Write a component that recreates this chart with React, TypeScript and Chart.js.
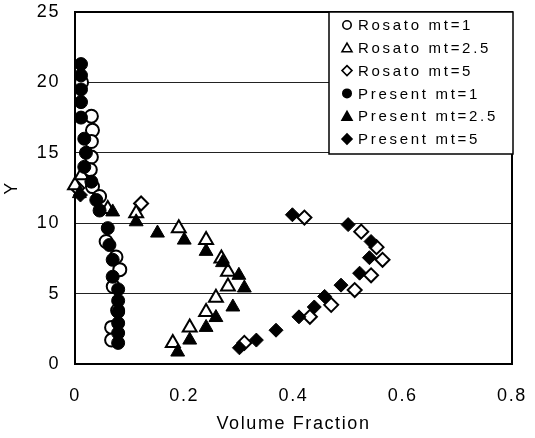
import { useEffect, useRef } from 'react';
import { Chart, registerables } from 'chart.js';

Chart.register(...registerables);

const FONT = '"Liberation Sans", Arial, Helvetica, sans-serif';

const xTicks = [0, 0.2, 0.4, 0.6, 0.8];
const yTicks = [0, 5, 10, 15, 20, 25];

const rosato1X = [0.012, 0.03, 0.032, 0.03, 0.03, 0.028, 0.032, 0.045, 0.057, 0.075, 0.082, 0.07, 0.078, 0.067, 0.067];
const rosato1Y = [20.0, 17.6, 16.6, 15.8, 14.7, 13.8, 12.6, 11.9, 8.7, 7.6, 6.7, 5.5, 3.8, 2.6, 1.7];

const present1X = [0.011, 0.011, 0.011, 0.011, 0.011, 0.017, 0.02, 0.017, 0.03, 0.039, 0.045, 0.06, 0.063, 0.069, 0.069, 0.079, 0.079, 0.079, 0.079, 0.079, 0.079];
const present1Y = [21.3, 20.5, 19.5, 18.6, 17.5, 16.0, 15.0, 14.0, 12.95, 11.65, 10.9, 9.65, 8.45, 7.4, 6.2, 5.3, 4.5, 3.7, 2.9, 2.2, 1.5];

const rosato25X = [0.0, 0.012, 0.06, 0.112, 0.19, 0.24, 0.268, 0.28, 0.28, 0.258, 0.24, 0.21, 0.179];
const rosato25Y = [12.7, 13.4, 11.0, 10.7, 9.65, 8.8, 7.5, 6.55, 5.5, 4.7, 3.7, 2.6, 1.5];

const present25X = [0.008, 0.069, 0.112, 0.151, 0.2, 0.24, 0.27, 0.3, 0.31, 0.289, 0.258, 0.24, 0.21, 0.188];
const present25Y = [12.1, 10.8, 10.1, 9.3, 8.8, 8.0, 7.2, 6.3, 5.4, 4.05, 3.3, 2.6, 1.7, 0.85];

const rosato5X = [0.004, 0.121, 0.42, 0.524, 0.552, 0.563, 0.542, 0.512, 0.469, 0.43, 0.31];
const rosato5Y = [12.5, 11.4, 10.4, 9.4, 8.3, 7.4, 6.3, 5.25, 4.2, 3.35, 1.5];

const present5X = [0.01, 0.398, 0.5, 0.542, 0.539, 0.521, 0.487, 0.457, 0.438, 0.41, 0.368, 0.332, 0.301];
const present5Y = [12.0, 10.6, 9.9, 8.7, 7.55, 6.45, 5.6, 4.8, 4.05, 3.35, 2.4, 1.7, 1.15];

const seriesLabels = ['Rosato mt=1', 'Rosato mt=2.5', 'Rosato mt=5', 'Present mt=1', 'Present mt=2.5', 'Present mt=5'];

const toPoints = (xs: number[], ys: number[]) => xs.map((x, i) => ({ x, y: ys[i] }));

function drawSymbol(ctx: CanvasRenderingContext2D, style: string, filled: boolean, x: number, y: number, r: number) {
  ctx.beginPath();
  if (style === 'circle') {
    ctx.arc(x, y, r, 0, Math.PI * 2);
  } else if (style === 'triangle') {
    for (let k = 0; k < 3; k++) {
      const a = (k * 2 * Math.PI) / 3;
      const px = x + Math.sin(a) * r * 1.15;
      const py = y - Math.cos(a) * r * 1.15 + r * 0.2;
      if (k === 0) ctx.moveTo(px, py);
      else ctx.lineTo(px, py);
    }
  } else {
    ctx.moveTo(x - r, y);
    ctx.lineTo(x, y - r);
    ctx.lineTo(x + r, y);
    ctx.lineTo(x, y + r);
  }
  ctx.closePath();
  ctx.fillStyle = filled ? '#000' : '#fff';
  ctx.fill();
  ctx.lineWidth = 1.6;
  ctx.strokeStyle = '#000';
  ctx.stroke();
}

const spacingPlugin = {
  id: 'spacing',
  beforeUpdate(chart: any) {
    chart.ctx.letterSpacing = '1.6px';
  },
  beforeDraw(chart: any) {
    chart.ctx.letterSpacing = '1.6px';
  },
};

const framePlugin = {
  id: 'frame',
  beforeDatasetsDraw(chart: any) {
    const { ctx, chartArea } = chart;
    ctx.save();
    ctx.strokeStyle = '#000';
    ctx.lineWidth = 2;
    ctx.strokeRect(chartArea.left, chartArea.top, chartArea.right - chartArea.left, chartArea.bottom - chartArea.top);
    ctx.restore();
  },
};

const legendPlugin = {
  id: 'boxLegend',
  afterDraw(chart: any) {
    const { ctx, chartArea } = chart;
    const R = chartArea.right + 1;
    const T = chartArea.top;
    const L = R - 184;
    const B = T + 142;
    ctx.save();
    ctx.fillStyle = '#fff';
    ctx.fillRect(L, T, R - L, B - T);
    ctx.strokeStyle = '#000';
    ctx.lineWidth = 1.5;
    ctx.strokeRect(L, T, R - L, B - T);
    ctx.font = '15px ' + FONT;
    ctx.letterSpacing = '2.7px';
    ctx.textBaseline = 'middle';
    ctx.textAlign = 'left';
    chart.data.datasets.forEach((ds: any, i: number) => {
      const y = T + 13 + i * 22.8;
      const filled = ds.backgroundColor === '#000';
      drawSymbol(ctx, ds.pointStyle, filled, L + 18, y, ds.pointStyle === 'circle' ? 4.2 : 5);
      ctx.fillStyle = '#000';
      ctx.fillText(ds.label, L + 29, y + 1);
    });
    ctx.restore();
  },
};

export default function App() {
  const ref = useRef<HTMLCanvasElement | null>(null);

  useEffect(() => {
    if (!ref.current) return;
    Chart.defaults.font.family = FONT;
    const mk = (i: number, xs: number[], ys: number[], style: string, filled: boolean, r: number) => ({
      label: seriesLabels[i],
      data: toPoints(xs, ys),
      pointStyle: style,
      pointRadius: r,
      pointHoverRadius: r,
      backgroundColor: filled ? '#000' : '#fff',
      borderColor: '#000',
      borderWidth: filled ? 1 : 2,
      showLine: false,
      clip: false as any,
      order: filled ? 1 : 2,
    });
    const chart = new Chart(ref.current, {
      type: 'scatter',
      data: {
        datasets: [
          mk(0, rosato1X, rosato1Y, 'circle', false, 6.5),
          mk(1, rosato25X, rosato25Y, 'triangle', false, 8),
          mk(2, rosato5X, rosato5Y, 'rectRot', false, 7),
          mk(3, present1X, present1Y, 'circle', true, 6.5),
          mk(4, present25X, present25Y, 'triangle', true, 8),
          mk(5, present5X, present5Y, 'rectRot', true, 7),
        ] as any,
      },
      options: {
        animation: false,
        responsive: false,
        layout: { padding: { left: 0, right: 23, top: 12, bottom: 0 } },
        plugins: { legend: { display: false }, tooltip: { enabled: false } },
        scales: {
          x: {
            type: 'linear',
            min: 0,
            max: 0.8,
            afterBuildTicks: (scale: any) => {
              scale.ticks = xTicks.map((v) => ({ value: v }));
            },
            afterFit: (scale: any) => {
              scale.height = 74;
              scale.paddingLeft = 0;
              scale.paddingRight = 0;
              scale.paddingTop = 0;
              scale.paddingBottom = 0;
            },
            grid: { display: false, drawTicks: false },
            border: { display: false },
            ticks: { color: '#000', font: { size: 18 }, padding: 21, maxRotation: 0 },
            title: { display: true, text: 'Volume Fraction', color: '#000', font: { size: 18 }, padding: { top: 0, bottom: 3 } },
          },
          y: {
            type: 'linear',
            min: 0,
            max: 25,
            afterBuildTicks: (scale: any) => {
              scale.ticks = yTicks.map((v) => ({ value: v }));
            },
            afterFit: (scale: any) => {
              scale.width = 75;
              scale.paddingLeft = 0;
              scale.paddingRight = 0;
              scale.paddingTop = 0;
              scale.paddingBottom = 0;
            },
            grid: { color: '#222', lineWidth: 1, drawTicks: false },
            border: { display: false },
            ticks: { color: '#000', font: { size: 18 }, padding: 15 },
            title: { display: true, text: 'Y', color: '#000', font: { size: 18 }, padding: { top: 1, bottom: 0 } },
          },
        },
      },
      plugins: [spacingPlugin, framePlugin, legendPlugin],
    });
    return () => chart.destroy();
  }, []);

  return (
    <div style={{ position: 'absolute', left: 0, top: 0, width: 535, height: 438, background: '#fff' }}>
      <canvas ref={ref} width={535} height={438} style={{ display: 'block' }} />
    </div>
  );
}
